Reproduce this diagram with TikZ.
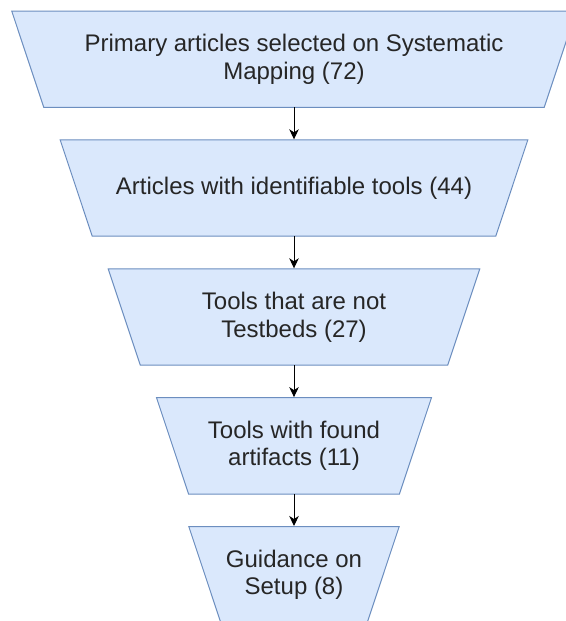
\documentclass[tikz,border=0pt]{standalone}
\usepackage{fontspec}
\setmainfont{Liberation Sans}
\usetikzlibrary{arrows.meta,backgrounds}
\definecolor{stepfill}{HTML}{DAE8FC}
\definecolor{stepline}{HTML}{6C8EBF}
\definecolor{steptext}{HTML}{262626}
% inverted trapezoid drawn round a stage node
\newcommand\funnelshape[1]{%
  \draw[funnelbox] (#1.north west) -- (#1.north east)
    -- ([xshift=-32.1pt]#1.south east) -- ([xshift=32.1pt]#1.south west) -- cycle;}
\begin{document}
\begin{tikzpicture}[x=1pt,y=-1pt,
  stage/.style={rectangle, minimum width=#1, minimum height=96.4pt,
    inner sep=0pt, outer sep=0pt, text=steptext, align=center,
    font=\fontsize{24}{27.6}\selectfont},
  funnelbox/.style={draw=stepline, fill=stepfill, line width=1pt,
    line join=miter},
  flow/.style={draw=black, line width=1pt, shorten >=0.5pt,
    -{Stealth[length=10pt,width=9.5pt,inset=3pt]}}]
\useasboundingbox (0,0) rectangle (565,621);
\clip (0,0) rectangle (565,621);
% funnel stages, widest on top
\node[stage=564.6pt] (s1) at (294,59.2)
  {Primary articles selected on Systematic\\Mapping (72)};
\node[stage=467.7pt] (s2) at (294,188.0)
  {Articles with identifiable tools (44)};
\node[stage=371.6pt] (s3) at (294,317.0)
  {Tools that are not\\Testbeds (27)};
\node[stage=275.0pt] (s4) at (294,445.8)
  {Tools with found\\artifacts (11)};
\node[stage=210.4pt] (s5) at (294,574.7)
  {Guidance on\\Setup (8)};
\begin{scope}[on background layer]
  \funnelshape{s1}
  \funnelshape{s2}
  \funnelshape{s3}
  \funnelshape{s4}
  \funnelshape{s5}
\end{scope}
% connectors between stages
\draw[flow] (s1) -- (s2);
\draw[flow] (s2) -- (s3);
\draw[flow] (s3) -- (s4);
\draw[flow] (s4) -- (s5);
\end{tikzpicture}
\end{document}
